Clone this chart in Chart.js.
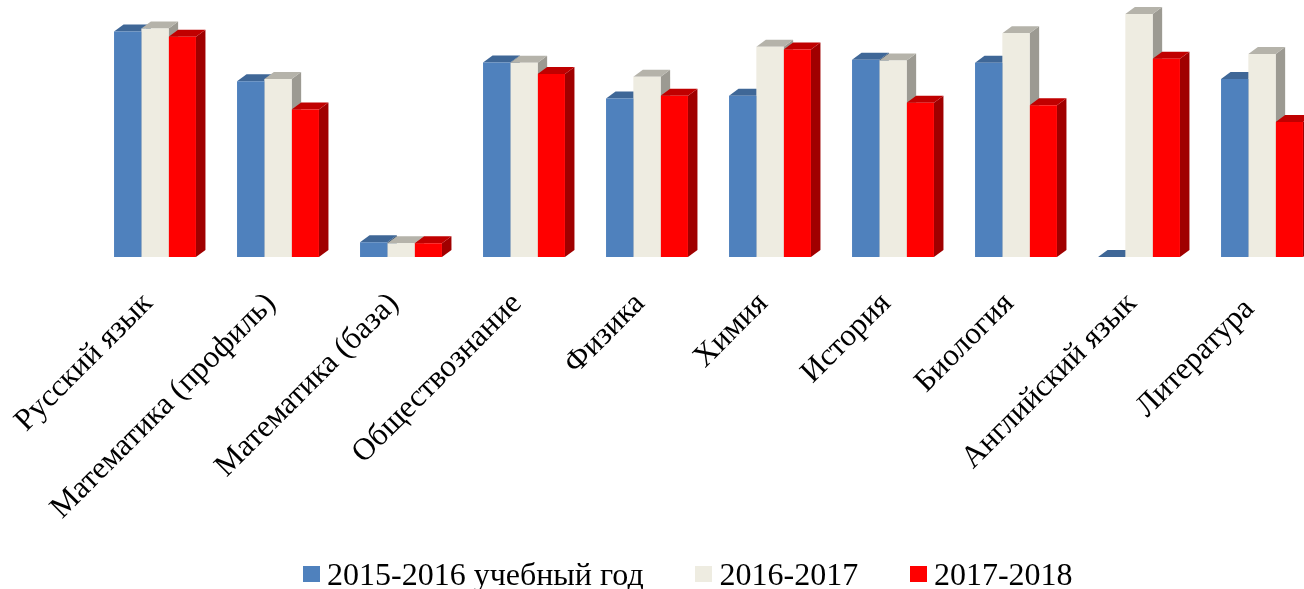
<!DOCTYPE html>
<html>
<head>
<meta charset="utf-8">
<script src="https://cdn.jsdelivr.net/npm/chart.js@4"></script>
<style>
  html, body { margin: 0; padding: 0; background: #fff; overflow: hidden; width: 1304px; height: 589px; }
  #holder { position: absolute; left: 0; top: 0; width: 1340px; height: 589px; }
  #legend { position: absolute; left: 303px; top: 556px; white-space: nowrap; font: 32px "Liberation Serif", serif; color: #000; line-height: 37px; }
  #legend span.box { display: inline-block; width: 17px; height: 16px; margin-right: 7px; vertical-align: 3px; }
  #legend span.item { margin-right: 51.8px; }
</style>
</head>
<body>
<div id="holder"><canvas id="chart" width="1340" height="589"></canvas></div>
<div id="legend"></div>
<script>
  var categories = ["Русский язык", "Математика (профиль)", "Математика (база)", "Обществознание", "Физика", "Химия", "История", "Биология", "Английский язык", "Литература"];
  var seriesNames = ["2015-2016 учебный год", "2016-2017", "2017-2018"];

  var values2016 = [70.3, 54.8, 4.6, 60.7, 49.4, 50.3, 61.5, 60.6, 0, 55.5];
  var values2017 = [71.3, 55.5, 4.3, 60.6, 56.2, 65.6, 61.3, 69.8, 75.8, 63.3];
  var values2018 = [68.7, 46.0, 4.3, 57.1, 50.3, 64.7, 48.1, 47.3, 61.8, 42.1];

  var frontColors = ["#4f81bd", "#eeece1", "#ff0000"];
  var topColors = ["#3f6797", "#b5b3aa", "#c00000"];
  var sideColors = ["#2f4d71", "#9c9a92", "#a00000"];

  var depthX = 9.5, depthY = 7;

  // the fake 3d faces, taken from the bar elements the library laid out
  var faces3d = {
    id: "faces3d",
    beforeDatasetsDraw: function(chart) {
      var ctx = chart.ctx;
      chart.data.datasets.forEach(function(ds, i) {
        chart.getDatasetMeta(i).data.forEach(function(bar) {
          var p = bar.getProps(["x", "y", "base", "width"], true);
          var l = p.x - p.width / 2, r = p.x + p.width / 2;
          ctx.fillStyle = sideColors[i];
          ctx.beginPath();
          ctx.moveTo(r, p.y);
          ctx.lineTo(r + depthX, p.y - depthY);
          ctx.lineTo(r + depthX, p.base - depthY);
          ctx.lineTo(r, p.base);
          ctx.closePath();
          ctx.fill();
          ctx.fillStyle = topColors[i];
          ctx.beginPath();
          ctx.moveTo(l, p.y);
          ctx.lineTo(l + depthX, p.y - depthY);
          ctx.lineTo(r + depthX, p.y - depthY);
          ctx.lineTo(r, p.y);
          ctx.closePath();
          ctx.fill();
        });
      });
    }
  };

  new Chart(document.getElementById("chart").getContext("2d"), {
    type: "bar",
    data: {
      labels: categories,
      datasets: [
        { label: seriesNames[0], data: values2016, backgroundColor: frontColors[0] },
        { label: seriesNames[1], data: values2017, backgroundColor: frontColors[1] },
        { label: seriesNames[2], data: values2018, backgroundColor: frontColors[2] }
      ]
    },
    options: {
      responsive: false,
      animation: false,
      layout: { padding: { left: 93.5, right: 16.5, top: 0.5, bottom: 0 } },
      datasets: { bar: { categoryPercentage: 0.666, barPercentage: 1 } },
      plugins: { legend: { display: false }, tooltip: { enabled: false } },
      scales: {
        x: {
          grid: { display: false },
          border: { display: false },
          ticks: {
            color: "#000",
            font: { family: "'Liberation Serif'", size: 31.3 },
            minRotation: 45,
            maxRotation: 45,
            autoSkip: false,
            padding: 20.5,
            labelOffset: -7,
            callback: function(value, index) {
              // last label sits a little lower-left in the original, a trailing space does that
              var name = this.getLabelForValue(value);
              return index === categories.length - 1 ? name + " " : name;
            }
          },
          afterFit: function(scale) {
            scale.height = 332;
            // rotated labels must not squeeze the plot, the last group runs off the page
            scale.paddingLeft = 0;
            scale.paddingRight = 0;
          }
        },
        y: { display: false, min: 0, max: 80 }
      }
    },
    plugins: [faces3d]
  });

  var legend = document.getElementById("legend");
  seriesNames.forEach(function(name, i) {
    var item = document.createElement("span");
    item.className = "item";
    var box = document.createElement("span");
    box.className = "box";
    box.style.background = frontColors[i];
    item.appendChild(box);
    item.appendChild(document.createTextNode(name));
    legend.appendChild(item);
  });
</script>
</body>
</html>
